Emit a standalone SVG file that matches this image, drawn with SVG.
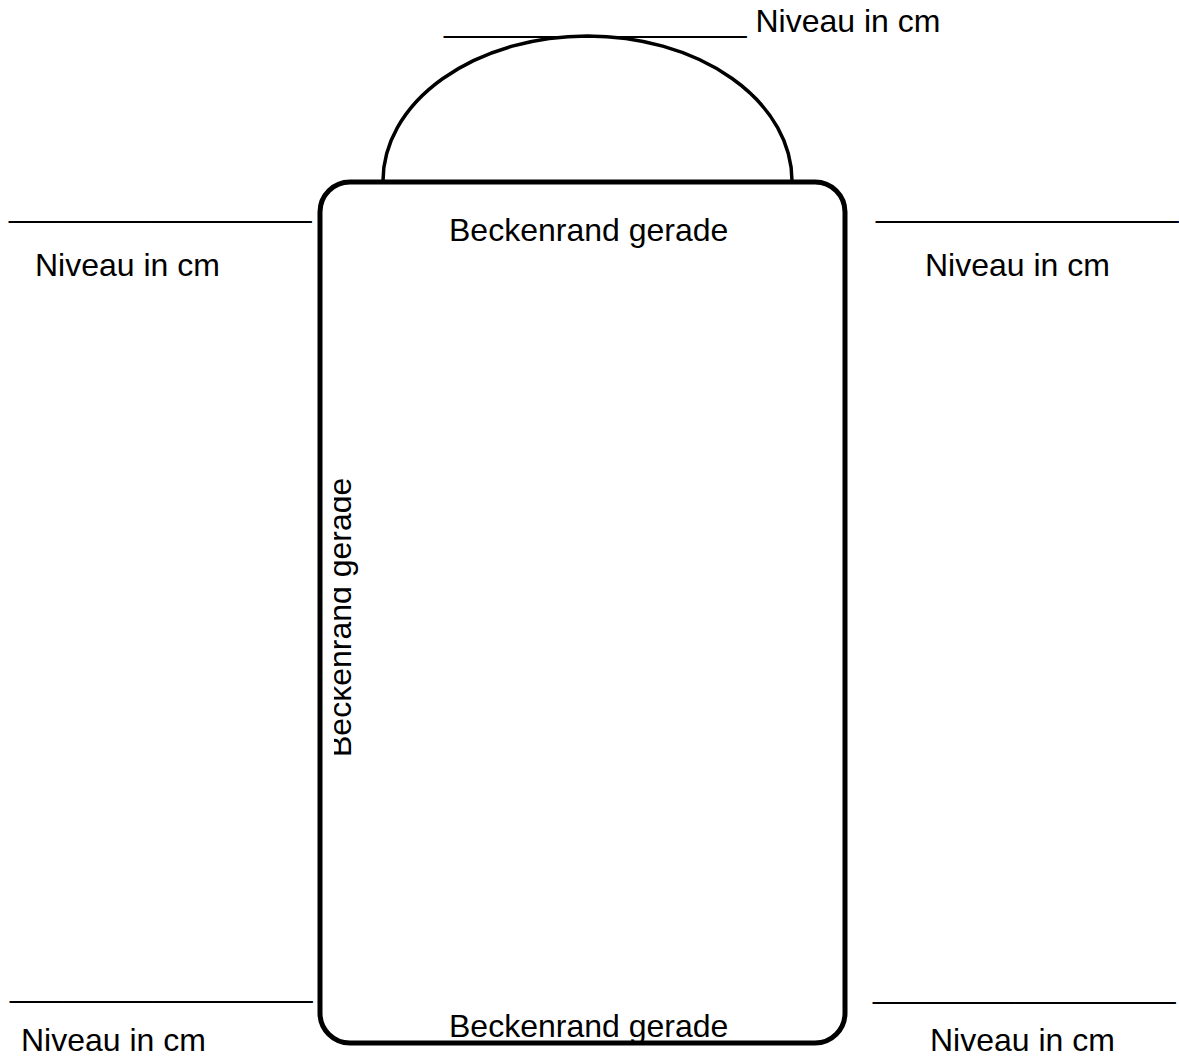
<svg xmlns="http://www.w3.org/2000/svg" width="1179" height="1056" viewBox="0 0 1179 1056">
  <style>
    text { font-family: "Liberation Sans", Arial, sans-serif; font-size: 32px; fill: #000; }
    .outline { fill: none; stroke: #000; }
  </style>
  <defs>
    <!-- the side label is cut off along the basin wall -->
    <clipPath id="sideClip">
      <rect x="334" y="182" width="500" height="860"/>
    </clipPath>
  </defs>
  <rect width="1179" height="1056" fill="#fff"/>

  <!-- overflow dome on top of the basin -->
  <g id="dome">
    <path class="outline" stroke-width="3.5" d="M383,181 A204.5,145 0 0 1 792,181"/>
  </g>

  <!-- basin outline -->
  <g id="basin">
    <rect class="outline" stroke-width="5" x="320" y="182" width="525" height="861" rx="30" ry="30"/>
    <text x="449" y="241">Beckenrand gerade</text>
    <text x="449" y="1037">Beckenrand gerade</text>
    <g clip-path="url(#sideClip)">
      <text transform="translate(351,757) rotate(-90)">Beckenrand gerade</text>
    </g>
  </g>

  <!-- level entry fields -->
  <g id="level-top">
    <text x="444" y="32">_________________ Niveau in cm</text>
  </g>
  <g id="level-top-left">
    <text x="9" y="217">_________________</text>
    <text x="35" y="276">Niveau in cm</text>
  </g>
  <g id="level-top-right">
    <text x="876" y="217">_________________</text>
    <text x="925" y="276">Niveau in cm</text>
  </g>
  <g id="level-bottom-left">
    <text x="10" y="997">_________________</text>
    <text x="21" y="1051">Niveau in cm</text>
  </g>
  <g id="level-bottom-right">
    <text x="873" y="998">_________________</text>
    <text x="930" y="1051">Niveau in cm</text>
  </g>

  <g id="connectors"></g>
</svg>
